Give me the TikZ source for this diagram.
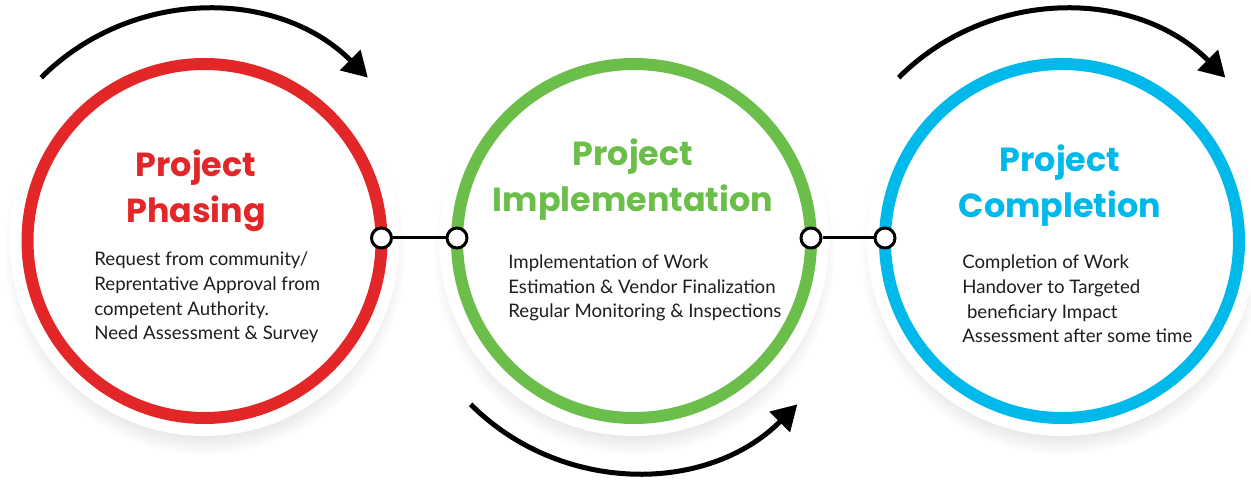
\documentclass[tikz,border=0pt]{standalone}
\usepackage{fontspec}
\setmainfont{Lato}
\newfontfamily\headfont{Poppins}
\usepackage{xcolor}
\usetikzlibrary{shapes,arrows.meta,positioning,shadows}

\definecolor{phasered}{RGB}{227,38,40}
\definecolor{implgreen}{RGB}{108,190,75}
\definecolor{compblue}{RGB}{0,185,235}
\definecolor{bodytext}{RGB}{30,30,30}

\begin{document}
\begin{tikzpicture}[
    halo/.style={circle, fill=white, inner sep=0pt, minimum size=7.8cm, circular drop shadow={shadow xshift=0pt, shadow yshift=-0.25cm, shadow scale=1.03, opacity=0.3, fill=black!45}},
    ring/.style={circle, draw=#1, line width=0.24cm, fill=white, inner sep=0pt, outer sep=0pt, minimum size=7.08cm},
    joint/.style={circle, draw=black, line width=0.06cm, fill=white, inner sep=0pt, minimum size=0.4cm},
    heading/.style={font=\headfont\bfseries\fontsize{19}{26.5}\selectfont, text=#1, align=center, inner sep=0pt, anchor=base},
    body/.style={font=\fontsize{10.6}{14.2}\selectfont, text=bodytext, align=left, inner sep=0pt, anchor=base west},
    link/.style={line width=0.06cm},
    cyclearrow/.style={-{Triangle[length=0.5cm, width=0.56cm]}, line width=0.1cm}
]
    \useasboundingbox (0,0) rectangle (25.02,9.58);

    % white discs with shadow
    \node[halo] (h1) at (4.09,4.76) {};
    \node[halo] (h2) at (12.68,4.76) {};
    \node[halo] (h3) at (21.24,4.76) {};

    % coloured rings
    \node[ring=phasered] (phasing) at (h1) {};
    \node[ring=implgreen] (impl) at (h2) {};
    \node[ring=compblue] (completion) at (h3) {};

    % headings (placed at the baseline of their last line)
    \node[heading=phasered] (phasinghead) at (3.92,5.12) {Project\\Phasing};
    \node[heading=implgreen] (implhead) at (12.66,5.34) {Project\\Implementation};
    \node[heading=compblue] (completionhead) at (21.2,5.22) {Project\\Completion};

    % details
    \node[body] (phasingtext) at (1.88,2.78) {Request from community/\\Reprentative Approval from\\competent Authority.\\Need Assessment \& Survey};
    \node[body] (impltext) at (10.16,3.22) {Implementation of Work\\Estimation \& Vendor Finalization\\Regular Monitoring \& Inspections};
    \node[body] (completiontext) at (19.24,2.72) {Completion of Work\\Handover to Targeted\\\hspace{0.25em}beneficiary Impact\\Assessment after some time};

    % joints between the rings
    \node[joint] (j1) at ([yshift=0.06cm]phasing.east) {};
    \node[joint] (j2) at ([yshift=0.06cm]impl.west) {};
    \node[joint] (j3) at ([yshift=0.06cm]impl.east) {};
    \node[joint] (j4) at ([yshift=0.06cm]completion.west) {};
    \draw[link] (j1) -- (j2);
    \draw[link] (j3) -- (j4);

    % turning arrows
    \draw[cyclearrow] ([shift={(135:4.62)}]phasing.center) arc[start angle=135, end angle=45, radius=4.62cm];
    \draw[cyclearrow] ([shift={(225:4.62)}]impl.center) arc[start angle=225, end angle=315, radius=4.62cm];
    \draw[cyclearrow] ([shift={(135:4.62)}]completion.center) arc[start angle=135, end angle=45, radius=4.62cm];
\end{tikzpicture}
\end{document}
